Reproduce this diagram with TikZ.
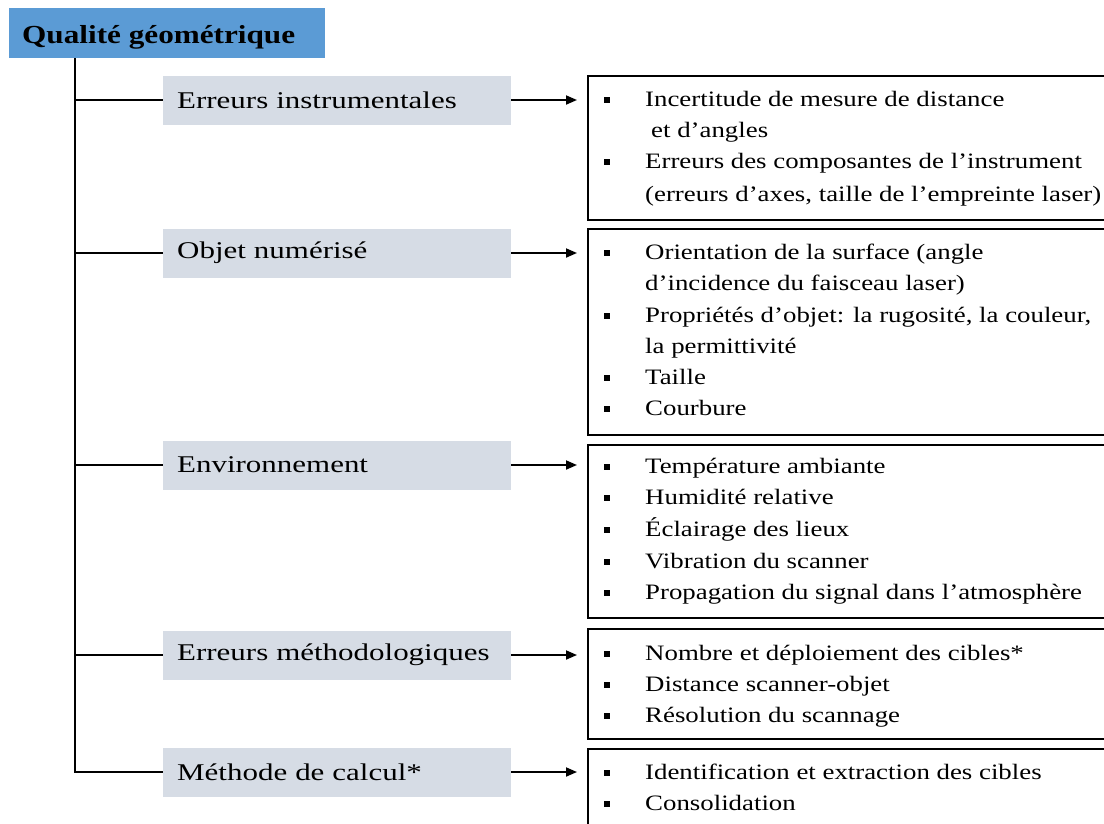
\documentclass[tikz,border=0pt]{standalone}
\usepackage{fontspec}
\setmainfont{Liberation Serif}
\newfontfamily\bodyfont[FakeStretch=1.22]{Liberation Serif}
\newfontfamily\catfont[FakeStretch=1.29]{Liberation Serif}
\newfontfamily\titlefont[FakeStretch=1.2]{Liberation Serif}
\usetikzlibrary{arrows.meta}
\definecolor{titleblue}{HTML}{5B9BD5}
\definecolor{catgray}{HTML}{D6DCE5}
\tikzset{
  titlebox/.style={fill=titleblue, anchor=north west, minimum width=316pt, minimum height=50pt, inner sep=0pt},
  catbox/.style={fill=catgray, anchor=west, minimum width=348pt, minimum height=49pt, text width=320pt, align=left, inner xsep=14pt, inner ysep=0pt, font=\catfont\fontsize{24}{27}\selectfont},
  listbox/.style={draw=black, line width=1.8pt, anchor=north west, minimum width=521pt, inner sep=0pt},
  txt/.style={anchor=base west, inner sep=0pt, font=\bodyfont\fontsize{22}{25}\selectfont},
  bul/.style={fill=black, minimum width=6pt, minimum height=6.5pt, inner sep=0pt},
  conn/.style={line width=1.8pt},
  arr/.style={line width=1.8pt, -{Triangle[length=11pt,width=9pt]}},
}
\begin{document}
\begin{tikzpicture}[x=1pt,y=-1pt]
\useasboundingbox[fill=white] (0,0) rectangle (1104,823);
\clip (0,0) rectangle (1104,823);
% title
\node[titlebox] (title) at (9,8) {};
\node[anchor=base west, inner sep=0pt, font=\titlefont\fontsize{26}{29}\selectfont\bfseries] (titletxt) at (22,43) {Qualité géométrique};
\coordinate (trunktop) at (75,58);
% categories
\node[catbox] (c1) at (163,100) {Erreurs instrumentales};
\node[catbox] (c2) at (163,253) {Objet numérisé};
\node[catbox] (c3) at (163,465) {Environnement};
\node[catbox] (c4) at (163,655) {Erreurs méthodologiques};
\node[catbox] (c5) at (163,772) {Méthode de calcul*};
% list boxes
\node[listbox, minimum height=144pt] (b1) at (587,75) {};
\node[listbox, minimum height=206pt] (b2) at (587,228) {};
\node[listbox, minimum height=173pt] (b3) at (587,444) {};
\node[listbox, minimum height=110pt] (b4) at (587,628) {};
\node[listbox, minimum height=110pt] (b5) at (587,748) {};
% connectors
\draw[conn] (trunktop) |- (c5.west);
\foreach \c in {c1,c2,c3,c4} \draw[conn] (\c.west -| trunktop) -- (\c.west);
\foreach \c/\b in {c1/b1,c2/b2,c3/b3,c4/b4,c5/b5} \draw[arr] (\c.east) -- ([xshift=-10pt]\c.east -| \b.west);
% box 1
\node[bul] (p11) at (607,100) {};
\node[txt] (t11) at (645,106) {Incertitude de mesure de distance};
\node[txt] (t12) at (651,137) {et d’angles};
\node[bul] (p13) at (607,162) {};
\node[txt] (t13) at (645,168) {Erreurs des composantes de l’instrument};
\node[txt] (t14) at (645,201) {(erreurs d’axes, taille de l’empreinte laser)};
% box 2
\node[bul] (p21) at (607,253) {};
\node[txt] (t21) at (645,259) {Orientation de la surface (angle};
\node[txt] (t22) at (645,290) {d’incidence du faisceau laser)};
\node[bul] (p23) at (607,316) {};
\node[txt] (t23) at (645,322) {Propriétés d’objet: la rugosité, la couleur,};
\node[txt] (t24) at (645,353) {la permittivité};
\node[bul] (p25) at (607,378) {};
\node[txt] (t25) at (645,384) {Taille};
\node[bul] (p26) at (607,409) {};
\node[txt] (t26) at (645,415) {Courbure};
% box 3
\node[bul] (p31) at (607,467) {};
\node[txt] (t31) at (645,473) {Température ambiante};
\node[bul] (p32) at (607,498) {};
\node[txt] (t32) at (645,504) {Humidité relative};
\node[bul] (p33) at (607,530) {};
\node[txt] (t33) at (645,536) {Éclairage des lieux};
\node[bul] (p34) at (607,562) {};
\node[txt] (t34) at (645,568) {Vibration du scanner};
\node[bul] (p35) at (607,593) {};
\node[txt] (t35) at (645,599) {Propagation du signal dans l’atmosphère};
% box 4
\node[bul] (p41) at (607,654) {};
\node[txt] (t41) at (645,660) {Nombre et déploiement des cibles*};
\node[bul] (p42) at (607,685) {};
\node[txt] (t42) at (645,691) {Distance scanner-objet};
\node[bul] (p43) at (607,716) {};
\node[txt] (t43) at (645,722) {Résolution du scannage};
% box 5
\node[bul] (p51) at (607,773) {};
\node[txt] (t51) at (645,779) {Identification et extraction des cibles};
\node[bul] (p52) at (607,804) {};
\node[txt] (t52) at (645,810) {Consolidation};
\end{tikzpicture}
\end{document}
